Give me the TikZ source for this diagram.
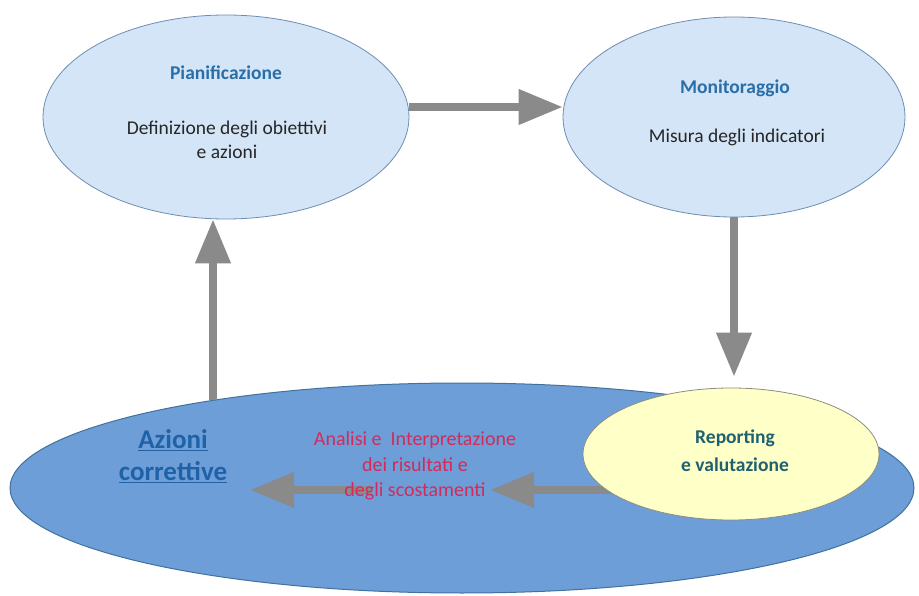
\documentclass[tikz,border=0pt]{standalone}
\usepackage{fontspec}
\setmainfont{Carlito}
\usetikzlibrary{
    shapes.geometric,
    arrows.meta,
    positioning
}
\definecolor{phasefill}{HTML}{D3E5F6}
\definecolor{phaseline}{HTML}{6F8DB2}
\definecolor{cyclefill}{HTML}{6E9ED7}
\definecolor{cycleline}{HTML}{41719C}
\definecolor{reportfill}{HTML}{FFFFC8}
\definecolor{reportline}{HTML}{8C8C80}
\definecolor{flowgray}{HTML}{8A8A8A}
\definecolor{titleblue}{HTML}{2A6EA8}
\definecolor{reportteal}{HTML}{1E6170}
\definecolor{actionblue}{HTML}{1F62A8}
\definecolor{analysisred}{HTML}{D42A5A}
\tikzset{
  phase/.style={
    ellipse,
    draw=phaseline,
    fill=phasefill,
    line width=0.8pt,
    inner sep=0pt
  },
  flow/.style={
    draw=flowgray,
    line width=7.5pt,
    -{Triangle[length=44pt,width=34pt]}
  },
  phasetitle/.style={
    font=\bfseries\fontsize{19.5}{21}\selectfont,
    text=titleblue,
    inner sep=0pt
  },
  phasetext/.style={
    font=\fontsize{19.5}{24}\selectfont,
    text=black!85,
    align=center,
    inner sep=0pt
  }
}

\begin{document}
\begin{tikzpicture}[x=1pt, y=-1pt]
    \useasboundingbox (0,0) rectangle (919,596);

    % ellissi
    \node[phase, draw=cycleline, fill=cyclefill, line width=1pt,
          minimum width=904pt, minimum height=210pt] (cycle) at (462,488) {};
    \node[phase, minimum width=366pt, minimum height=204pt] (plan) at (226,117) {};
    \node[phase, minimum width=342pt, minimum height=200pt] (monit) at (734,117) {};

    % frecce
    \coordinate (upstart) at (213,400);
    \coordinate (flowstart) at (660,490);
    \coordinate (midR) at (490,490);
    \coordinate (midL) at (372,490);
    \coordinate (actiontip) at (250,490);
    \draw[flow] ([yshift=10pt]plan.east) -- ([yshift=10pt]monit.west);
    \draw[flow] (upstart) -- (upstart |- plan.south);
    \draw[flow] (flowstart) -- (midR);
    \draw[flow] (midL) -- (actiontip);

    \node[phase, draw=reportline, fill=reportfill,
          minimum width=296pt, minimum height=132pt] (report) at (731,454) {};
    \draw[flow, shorten >=11pt] (monit.south) -- (monit.south |- report.north);

    % testi
    \node[phasetitle] (plantitle) at (226,73) {Pianificazione};
    \node[phasetext] (plantext) at (227,140) {Definizione degli obiettivi\\e azioni};
    \node[phasetitle] (monittitle) at (735,88) {Monitoraggio};
    \node[phasetext] (monittext) at (737,137) {Misura degli indicatori};
    \node[phasetext, font=\bfseries\fontsize{19.5}{28}\selectfont, text=reportteal]
        (reporttext) at (735,451) {Reporting\\e valutazione};
    \node[phasetext, font=\bfseries\fontsize{27}{32}\selectfont, text=actionblue]
        (actions) at (173,456) {\underline{Azioni}\\\underline{correttive}};
    \node[phasetext, font=\fontsize{20}{25.5}\selectfont, text=analysisred]
        (analysis) at (415,466) {Analisi e\ \ Interpretazione\\dei risultati e\\degli scostamenti};
\end{tikzpicture}
\end{document}
